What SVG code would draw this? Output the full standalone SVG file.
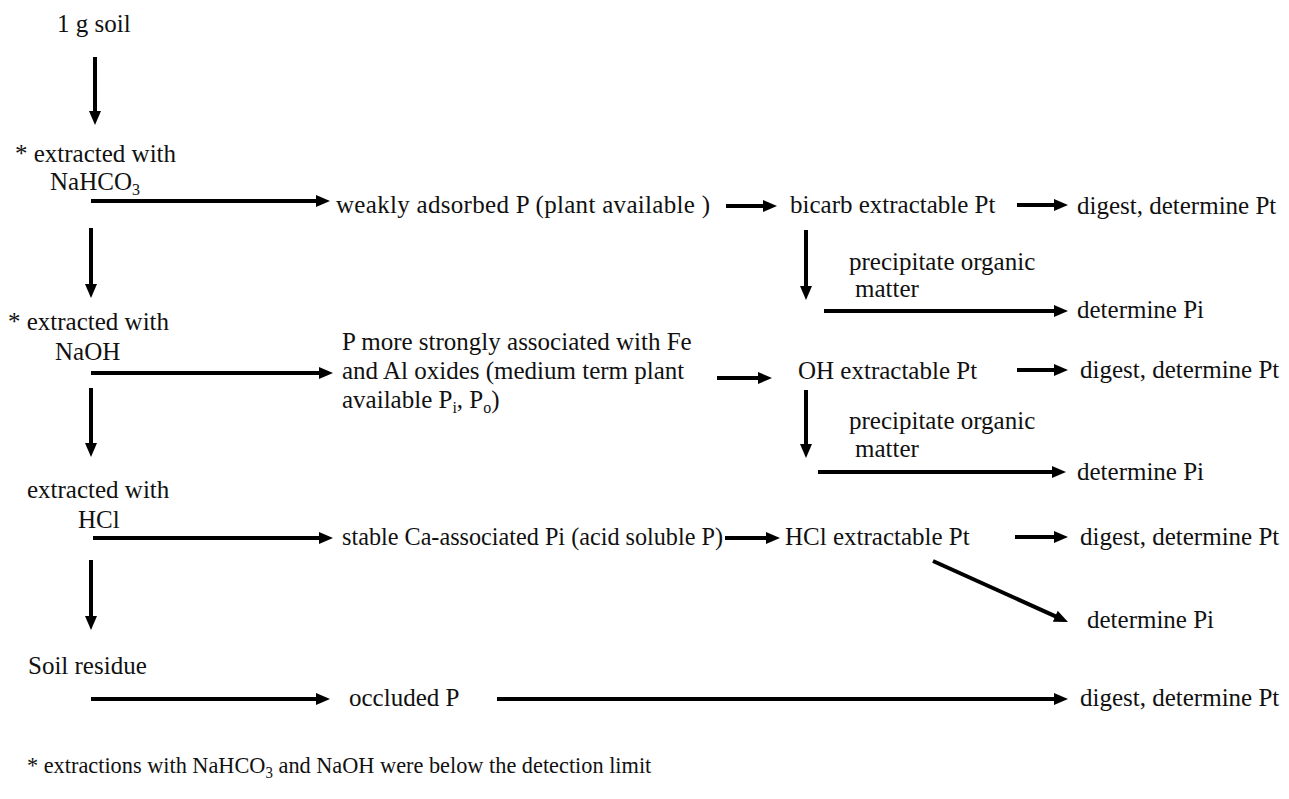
<svg xmlns="http://www.w3.org/2000/svg" width="1289" height="799" viewBox="0 0 1289 799" font-family="Liberation Serif, Times New Roman, serif" font-size="25">
<style>
text{fill:#111}
.sub{font-size:16px}
.c{stroke:#000;stroke-width:4;fill:none;marker-end:url(#ah)}
</style>
<defs>
<marker id="ah" viewBox="0 0 14 12" markerWidth="14" markerHeight="12" refX="4" refY="6" orient="auto" markerUnits="userSpaceOnUse">
<path d="M0,0 L14,6 L0,12 z" fill="#000"/>
</marker>
</defs>
<rect width="1289" height="799" fill="#fff"/>
<g id="connectors">
<line class="c" x1="95" y1="57" x2="95" y2="115"/>
<line class="c" x1="91" y1="201" x2="320" y2="201"/>
<line class="c" x1="726" y1="206" x2="767" y2="206"/>
<line class="c" x1="1017" y1="205" x2="1058" y2="205"/>
<line class="c" x1="91" y1="228" x2="91" y2="288"/>
<line class="c" x1="806" y1="230" x2="806" y2="290"/>
<line class="c" x1="824" y1="311" x2="1058" y2="311"/>
<line class="c" x1="91" y1="373" x2="323" y2="373"/>
<line class="c" x1="717" y1="378" x2="762" y2="378"/>
<line class="c" x1="1017" y1="370" x2="1058" y2="370"/>
<line class="c" x1="806" y1="390" x2="806" y2="448"/>
<line class="c" x1="818" y1="472" x2="1056" y2="472"/>
<line class="c" x1="91" y1="388" x2="91" y2="447"/>
<line class="c" x1="93" y1="538" x2="323" y2="538"/>
<line class="c" x1="725" y1="538" x2="770" y2="538"/>
<line class="c" x1="1015" y1="537" x2="1058" y2="537"/>
<line class="c" x1="933" y1="561" x2="1058.9" y2="617.9"/>
<line class="c" x1="91" y1="560" x2="91" y2="620"/>
<line class="c" x1="91" y1="699" x2="320" y2="699"/>
<line class="c" x1="497" y1="699" x2="1058" y2="699"/>
</g>
<g id="n-soil"><text x="57" y="32">1 g soil</text></g>
<g id="n-nahco3"><text x="15" y="162">* extracted with</text><text x="50" y="190">NaHCO<tspan class="sub" dy="5">3</tspan></text></g>
<g id="n-weak"><text x="336" y="213" textLength="374" lengthAdjust="spacing">weakly adsorbed P (plant available )</text></g>
<g id="n-bicarb"><text x="790" y="213">bicarb extractable Pt</text></g>
<g id="n-digest1"><text x="1077" y="214">digest, determine Pt</text></g>
<g id="n-precip1"><text x="849" y="270">precipitate organic</text><text x="855" y="297">matter</text></g>
<g id="n-pi1"><text x="1077" y="318">determine Pi</text></g>
<g id="n-naoh"><text x="8" y="330">* extracted with</text><text x="55" y="360">NaOH</text></g>
<g id="n-strong"><text x="342" y="350">P more strongly associated with Fe</text><text x="342" y="379">and Al oxides (medium term plant</text><text x="342" y="408">available P<tspan class="sub" dy="5">i</tspan><tspan dy="-5">, P</tspan><tspan class="sub" dy="5">o</tspan><tspan dy="-5">)</tspan></text></g>
<g id="n-oh"><text x="798" y="379">OH extractable Pt</text></g>
<g id="n-digest2"><text x="1080" y="378">digest, determine Pt</text></g>
<g id="n-precip2"><text x="849" y="429">precipitate organic</text><text x="855" y="457">matter</text></g>
<g id="n-pi2"><text x="1077" y="480">determine Pi</text></g>
<g id="n-hcl"><text x="27" y="498">extracted with</text><text x="78" y="528">HCl</text></g>
<g id="n-stable"><text x="342" y="545" textLength="381" lengthAdjust="spacingAndGlyphs">stable Ca-associated Pi (acid soluble P)</text></g>
<g id="n-hclpt"><text x="785" y="545">HCl extractable Pt</text></g>
<g id="n-digest3"><text x="1080" y="545">digest, determine Pt</text></g>
<g id="n-pi3"><text x="1087" y="628">determine Pi</text></g>
<g id="n-residue"><text x="28" y="674">Soil residue</text></g>
<g id="n-occluded"><text x="349" y="706">occluded P</text></g>
<g id="n-digest4"><text x="1080" y="706">digest, determine Pt</text></g>
<g id="footnote"><text transform="translate(27,773) scale(0.93,1)" x="0" y="0" font-size="24">* extractions with NaHCO<tspan class="sub" dy="5">3</tspan><tspan dy="-5"> and NaOH were below the detection limit</tspan></text></g>
</svg>
